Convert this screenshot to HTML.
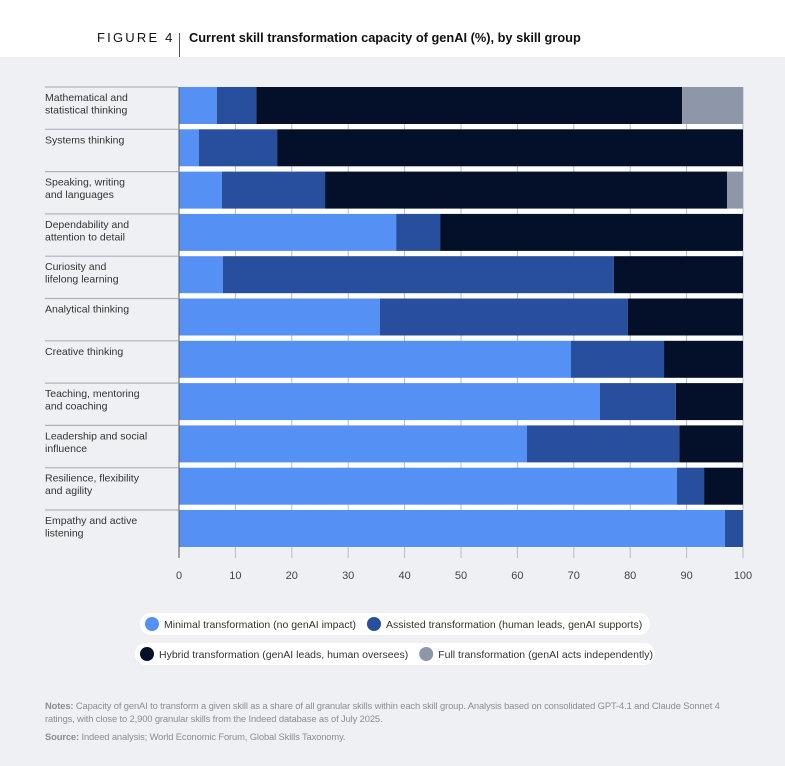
<!DOCTYPE html>
<html><head><meta charset="utf-8"><style>
body{margin:0;width:785px;height:766px;background:#fff;font-family:"Liberation Sans",sans-serif;overflow:hidden;position:relative}
#bg{position:absolute;left:0;top:57px;width:785px;height:709px;background:#eff0f4}
.hdr{position:absolute;top:30px;font-size:13px;color:#111}
.notes{position:absolute;left:45px;font-size:9.4px;color:#8a8d95;line-height:13px;letter-spacing:-0.13px}
svg{position:absolute;left:0;top:0}
</style></head><body>
<div id="bg"></div>
<div class="hdr" style="left:97px;letter-spacing:2.2px;font-weight:normal">FIGURE 4</div>
<div style="position:absolute;left:179px;top:33px;width:1px;height:24px;background:#555"></div>
<div class="hdr" style="left:189px;font-weight:bold;font-size:12.8px">Current skill transformation capacity of genAI (%), by skill group</div>
<svg id="chart" width="785" height="766"></svg>
<div class="notes" style="top:699px;width:680px"><b>Notes:</b> Capacity of genAI to transform a given skill as a share of all granular skills within each skill group. Analysis based on consolidated GPT-4.1 and Claude Sonnet 4 ratings, with close to 2,900 granular skills from the Indeed database as of July 2025.</div>
<div class="notes" style="top:730px"><b>Source:</b> Indeed analysis; World Economic Forum, Global Skills Taxonomy.</div>
<script>
const categories=[["Mathematical and","statistical thinking"],["Systems thinking"],["Speaking, writing","and languages"],["Dependability and","attention to detail"],["Curiosity and","lifelong learning"],["Analytical thinking"],["Creative thinking"],["Teaching, mentoring","and coaching"],["Leadership and social","influence"],["Resilience, flexibility","and agility"],["Empathy and active","listening"]];
const minimal=[6.7,3.5,7.6,38.5,7.8,35.6,69.5,74.6,61.7,88.3,96.8];
const assisted=[7.0,13.9,18.3,7.8,69.3,44.0,16.5,13.5,27.0,4.8,3.2];
const hybrid=[75.5,82.6,71.3,53.7,22.9,20.4,14.0,11.9,11.3,6.9,0];
const full=[10.8,0,2.8,0,0,0,0,0,0,0,0];
const ticks=[0,10,20,30,40,50,60,70,80,90,100];
const seriesNames=["Minimal transformation (no genAI impact)","Assisted transformation (human leads, genAI supports)","Hybrid transformation (genAI leads, human oversees)","Full transformation (genAI acts independently)"];
const colors=["#5591f5","#284e9e","#04102a","#8e97aa"];
const svg=document.getElementById('chart');const NS="http://www.w3.org/2000/svg";
const x0=179,x1=743,top0=87,pitch=42.3,barH=37;
const xs=v=>x0+(x1-x0)*v/100;
function mk(t,a,p){const e=document.createElementNS(NS,t);for(const k in a)e.setAttribute(k,a[k]);(p||svg).appendChild(e);return e;}
const plot=mk('rect',{x:x0,y:top0,width:x1-x0,height:pitch*categories.length-5,fill:'#fff'});


ticks.forEach(t=>{const l=mk('line',{x1:xs(t),x2:xs(t),y1:top0,y2:558,stroke:'#b8bcc6','stroke-width':1});


const tx=mk('text',{x:xs(t),y:579,'text-anchor':'middle','font-size':11,fill:'#444'});tx.textContent=t;

});
const series=[minimal,assisted,hybrid,full];
categories.forEach((c,i)=>{const y=top0+i*pitch;
const sep=mk('line',{x1:45,x2:178,y1:y,y2:y,stroke:'#aeb2bd','stroke-width':1.2});


c.forEach((s,j)=>{const t=mk('text',{x:45,y:y+14+j*12.5,'font-size':10.5,fill:'#333'});t.textContent=s;

});
let acc=0;series.forEach((ser,k)=>{const v=ser[i];if(v>0){const r=mk('rect',{x:xs(acc),y:y,width:xs(acc+v)-xs(acc),height:barH,fill:colors[k]});

}acc+=v;});});
const ax=mk('line',{x1:x0,x2:x0,y1:top0,y2:558,stroke:'#555','stroke-width':1});


const legendRows=[[0,1,140,613,510],[2,3,135,643,520]];
legendRows.forEach(([a,b,lx,ly,w])=>{const p=mk('rect',{x:lx,y:ly,width:w,height:22,rx:11,fill:'#fff'});


let cx=lx+12;[a,b].forEach(k=>{const c=mk('circle',{cx:cx,cy:ly+11,r:7,fill:colors[k]});


const t=mk('text',{x:cx+12,y:ly+15,'font-size':10.5,fill:'#333'});t.textContent=seriesNames[k];


cx+=t.getComputedTextLength()+30;});});
</script>
</body></html>
